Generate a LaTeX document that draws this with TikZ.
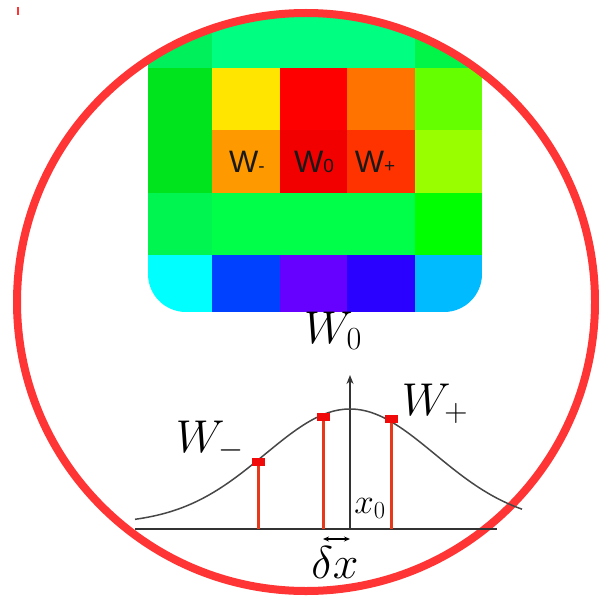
\RequirePackage{fix-cm}
\documentclass[tikz,border=0pt]{standalone}
\usepackage{fontspec}
\newfontfamily\cellfont{Liberation Sans}
\usetikzlibrary{arrows.meta}

\definecolor{ringred}{HTML}{FF3535}
\definecolor{stemred}{HTML}{E8381A}
\definecolor{markred}{HTML}{F00A0A}
\definecolor{axisgray}{HTML}{333333}
% heat map cells, row by row
\definecolor{hm11}{HTML}{00F05C}\definecolor{hm12}{HTML}{00FF80}\definecolor{hm13}{HTML}{00FF80}\definecolor{hm14}{HTML}{00FF80}\definecolor{hm15}{HTML}{00F548}
\definecolor{hm21}{HTML}{00E41E}\definecolor{hm22}{HTML}{FFE500}\definecolor{hm23}{HTML}{FF0000}\definecolor{hm24}{HTML}{FF7300}\definecolor{hm25}{HTML}{66FF00}
\definecolor{hm31}{HTML}{00E41E}\definecolor{hm32}{HTML}{FF9900}\definecolor{hm33}{HTML}{F20000}\definecolor{hm34}{HTML}{FF3300}\definecolor{hm35}{HTML}{99FF00}
\definecolor{hm41}{HTML}{00F550}\definecolor{hm42}{HTML}{00FF48}\definecolor{hm43}{HTML}{00FF48}\definecolor{hm44}{HTML}{00FF48}\definecolor{hm45}{HTML}{00FF00}
\definecolor{hm51}{HTML}{00FFFF}\definecolor{hm52}{HTML}{0040FF}\definecolor{hm53}{HTML}{6600FF}\definecolor{hm54}{HTML}{2A00FF}\definecolor{hm55}{HTML}{00BBFF}

\begin{document}
\begin{tikzpicture}[x=1pt, y=-1pt,
    axisline/.style={draw=axisgray, line width=1.3pt},
    stem/.style={draw=stemred, line width=3pt},
    marker/.style={rectangle, fill=markred, minimum width=13pt, minimum height=8pt, inner sep=0pt},
    mathlabel/.style={inner sep=0pt, anchor=base, font=\fontsize{46}{50}\selectfont},
    celllabel/.style={inner sep=0pt, anchor=base, text=black!90}]
  \useasboundingbox (0,0) rectangle (598,604);
  \coordinate (ctr) at (306,302);

  % Heat map
  \begin{scope}
    \clip (ctr) circle[radius=287];
    \clip[rounded corners=38pt] (148,0) -- (148,312) -- (482,312) -- (482,0) -- cycle;
    \foreach \r/\ya/\yb in {1/0/68, 2/68/130, 3/130/193, 4/193/255, 5/255/312}
      \foreach \c/\xa/\xb in {1/148/212, 2/212/280, 3/280/347, 4/347/415, 5/415/482}
        \fill[hm\r\c] (\xa,\ya) rectangle (\xb,\yb);
  \end{scope}
  \node[celllabel] (cwm) at (247,172) {\cellfont\fontsize{31}{33}\selectfont W\fontsize{19}{19}\selectfont -};
  \node[celllabel] (cw0) at (314,172) {\cellfont\fontsize{31}{33}\selectfont W\fontsize{19}{19}\selectfont 0};
  \node[celllabel] (cwp) at (375,172) {\cellfont\fontsize{31}{33}\selectfont W\fontsize{19}{19}\selectfont +};

  % Ring
  \draw[ringred, line width=8pt] (ctr) circle[radius=289];
  \coordinate (tickA) at (18,7);
  \coordinate (tickB) at (18,15);
  \draw[ringred, line width=1.5pt] (tickA) -- (tickB);

  % Gaussian and samples
  \coordinate (bl) at (135,529);
  \coordinate (br) at (497,529);
  \coordinate (orig) at (350,529);
  \coordinate (ytop) at (350,375);
  \draw[axisline] (bl) -- (br);
  \draw[axisline, -{Stealth[length=9pt, width=7pt]}] (orig) -- (ytop);
  \draw[axisgray!90, line width=1.5pt] plot[domain=135:522, samples=90, smooth]
    (\x, {524-115*exp(-0.5*((\x-350)/85)*((\x-350)/85))});

  \coordinate (sm) at (258,529);
  \coordinate (s0) at (323,529);
  \coordinate (sp) at (391,529);
  \node[marker] (mm) at (258,462) {};
  \node[marker] (m0) at (323,417) {};
  \node[marker] (mp) at (391,419) {};
  \draw[stem] (sm) -- (mm);
  \draw[stem] (s0) -- (m0);
  \draw[stem] (sp) -- (mp);

  \coordinate (dxa) at (323,539);
  \coordinate (dxb) at (350,539);
  \draw[line width=1.2pt, {Stealth[length=6pt, width=5pt]}-{Stealth[length=6pt, width=5pt]}] (dxa) -- (dxb);

  \node[mathlabel] (lw0) at (333,343) {$W_0$};
  \node[mathlabel] (lwm) at (210,452) {$W_-$};
  \node[mathlabel] (lwp) at (435,415) {$W_+$};
  \node[mathlabel] (ldx) at (335,578) {$\delta x$};
  \node[inner sep=0pt, anchor=base, font=\fontsize{35}{38}\selectfont] (lx0) at (370,513) {$x_0$};
\end{tikzpicture}
\end{document}
